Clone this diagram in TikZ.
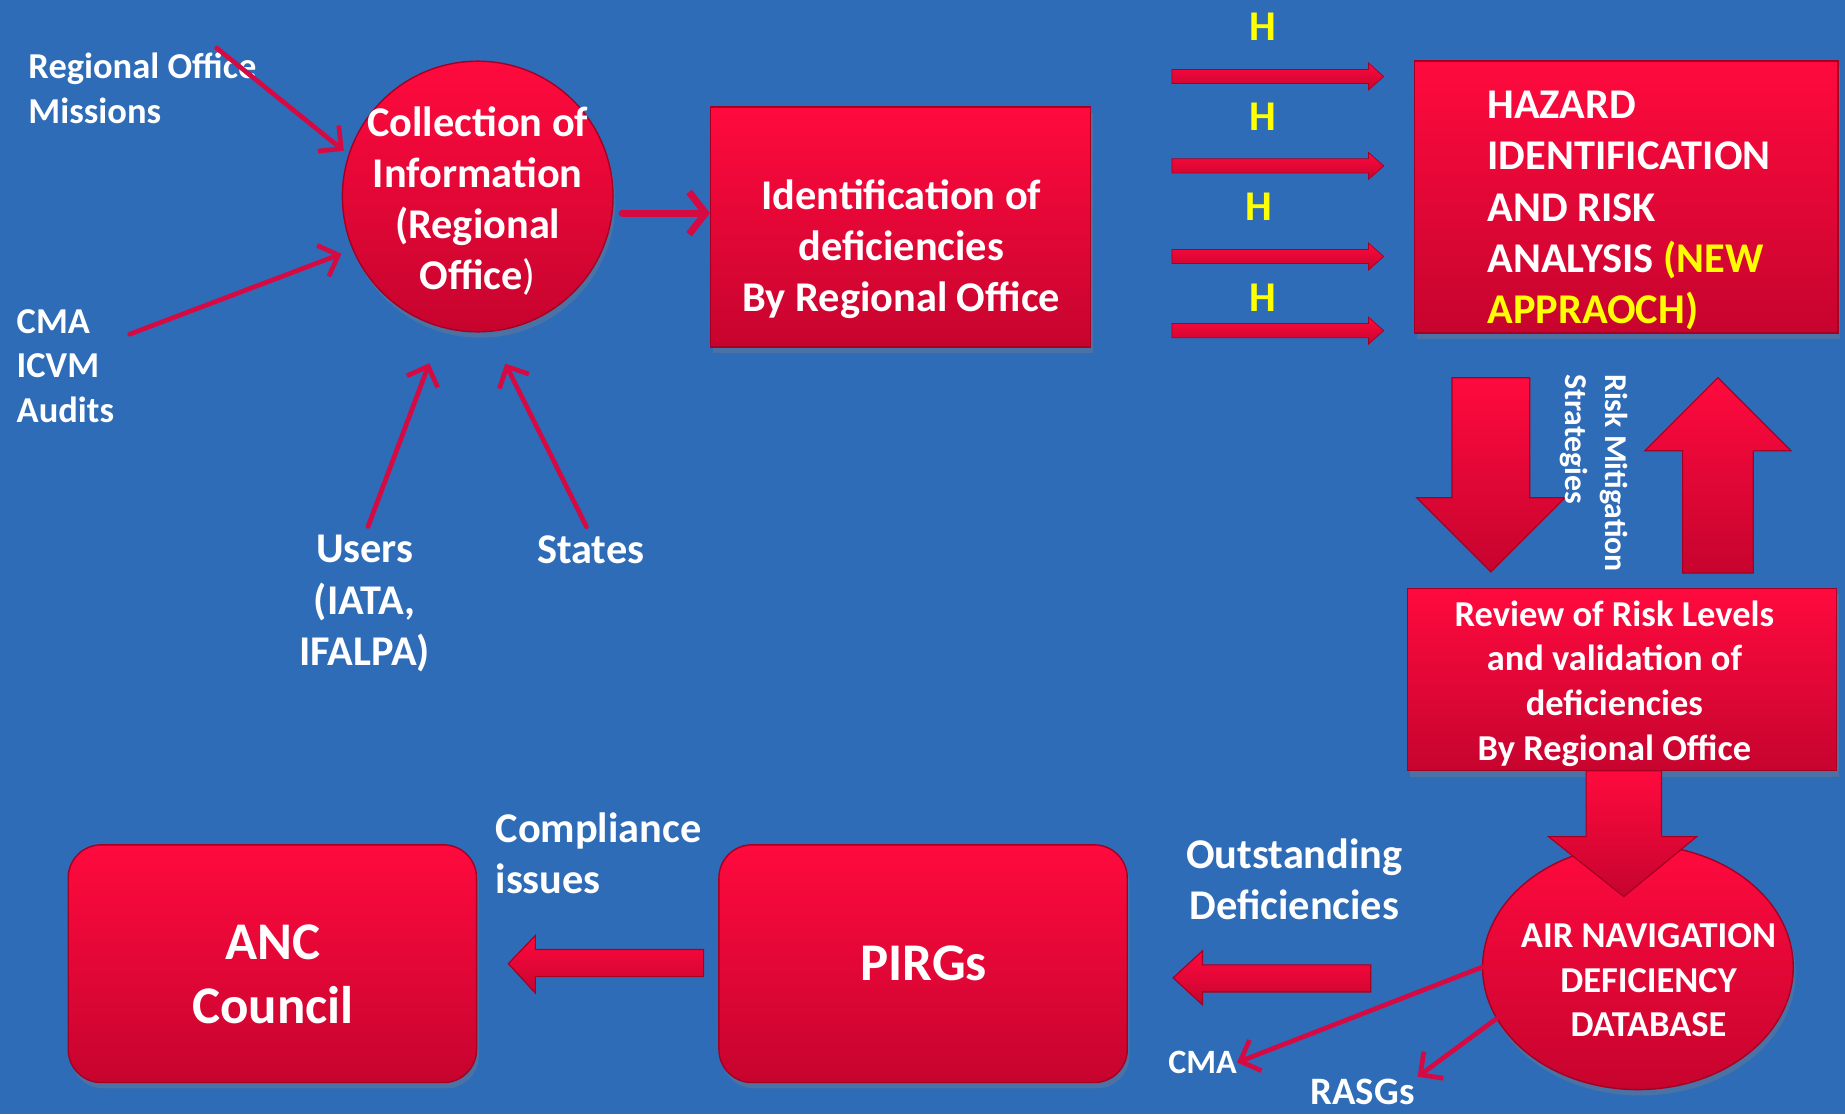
\documentclass[tikz,border=0pt]{standalone}
\usepackage{fontspec}
\setmainfont{Carlito}
\usetikzlibrary{arrows.meta,shapes.geometric,shadows,calc}

\definecolor{slideblue}{RGB}{46,108,184}
\definecolor{redtop}{RGB}{255,10,62}
\definecolor{redbot}{RGB}{198,4,46}
\definecolor{rededge}{RGB}{165,0,35}
\definecolor{linkred}{RGB}{214,10,66}
\definecolor{hazyellow}{RGB}{255,255,0}

\newcommand\txtbig{\fontsize{36pt}{43.5pt}\selectfont\bfseries}
\newcommand\txtmid{\fontsize{31pt}{38pt}\selectfont\bfseries}
\newcommand\txthuge{\fontsize{45pt}{54pt}\selectfont\bfseries}
\newcommand\txtrot{\fontsize{27pt}{34pt}\selectfont\bfseries}

\begin{document}
\begin{tikzpicture}[x=1pt,y=-1pt,
  redbox/.style={draw=rededge,line width=1.2pt,top color=redtop,bottom color=redbot,inner sep=0pt,
    drop shadow={shadow xshift=2pt,shadow yshift=-5pt,opacity=0.35}},
  disc/.style={redbox,circle,minimum size=230pt},
  lbl/.style={text=white,inner sep=0pt,font=\txtbig},
  hlabel/.style={lbl,text=hazyellow},
  link/.style={draw=linkred,line width=4pt,line cap=round,line join=round,
    -{Straight Barb[length=14pt,width=28pt]}},
  blockarrow/.style={draw=rededge,line width=1pt,top color=redtop,bottom color=redbot}]

  \useasboundingbox (0,0) rectangle (1568,947);
  \fill[slideblue] (0,0) rectangle (1568,947);

  % sources of information
  \node[lbl,font=\txtmid,align=left,anchor=west] (missions) at (24,75) {Regional Office\\Missions};
  \node[lbl,font=\txtmid,align=left,anchor=west] (cmaleft) at (14,311) {CMA\\ICVM\\Audits};
  \node[lbl,align=center] (users) at (310,513) {Users\\(IATA,\\IFALPA)};
  \node[lbl] (states) at (502,467) {States};

  \node[disc] (coll) at (406,167) {};
  \node[lbl,align=center] (colltext) at (406,171) {Collection of\\Information\\(Regional\\Office{\mdseries)}};

  \node[redbox,minimum width=323pt,minimum height=204pt] (ident) at (765.5,193) {};
  \node[lbl,align=center] (identtext) at (766,212) {Identification of\\deficiencies\\By Regional Office};

  \node[redbox,minimum width=360pt,minimum height=231pt] (hazard) at (1382,167.5) {};
  \node[lbl,align=left,anchor=west] (hazardtext) at (1264,179)
    {HAZARD\\IDENTIFICATION\\AND RISK\\ANALYSIS \textcolor{hazyellow}{(NEW}\\\textcolor{hazyellow}{APPRAOCH)}};

  % hazards coming in
  \foreach \y in {65,141,218,281}
    \path[blockarrow,line width=0.6pt] (996,\y-6) -- (1163,\y-6) -- (1163,\y-11.5) -- (1176,\y)
      -- (1163,\y+11.5) -- (1163,\y+6) -- (996,\y+6) -- cycle;
  \foreach \x/\y in {1073/23,1073/99,1070/176,1073/253}
    \node[hlabel] (h\y) at (\x,\y) {H};

  % risk loop
  \path[blockarrow] (1234,321) -- (1300,321) -- (1300,423) -- (1330,423) -- (1267,486)
    -- (1204,423) -- (1234,423) -- cycle;
  \path[blockarrow] (1430,487) -- (1490,487) -- (1490,383) -- (1522,383) -- (1460,321)
    -- (1398,383) -- (1430,383) -- cycle;
  \node[lbl,font=\txtrot,align=left,rotate=-90] (mitig) at (1355,402) {Risk Mitigation\\Strategies};

  \node[redbox,minimum width=365pt,minimum height=155pt] (review) at (1378.5,577.5) {};
  \node[lbl,font=\txtmid,align=center] (reviewtext) at (1372,581)
    {Review of Risk Levels\\and validation of\\deficiencies\\By Regional Office};

  % database and outputs
  \node[redbox,ellipse,minimum width=264pt,minimum height=208pt] (db) at (1392,822) {};
  \path[blockarrow] (1348,655) -- (1412,655) -- (1412,711) -- (1442,711) -- (1380,762)
    -- (1316,711) -- (1348,711) -- cycle;
  \node[lbl,font=\txtmid,align=center] (dbtext) at (1401,833) {AIR NAVIGATION\\DEFICIENCY\\DATABASE};

  \node[lbl,align=center] (outst) at (1100,747) {Outstanding\\Deficiencies};
  \path[blockarrow] (1165,820) -- (1022,820) -- (1022,808) -- (997,831) -- (1022,854)
    -- (1022,843) -- (1165,843) -- cycle;

  \node[redbox,rounded corners=28pt,minimum width=347pt,minimum height=202pt] (pirgs) at (784.5,819) {};
  \node[lbl,font=\txthuge] (pirgstext) at (785,819) {PIRGs};

  \node[lbl,align=left,anchor=west] (compl) at (421,725) {Compliance\\issues};
  \path[blockarrow] (598,807) -- (455,807) -- (455,795) -- (432,819) -- (455,844)
    -- (455,830) -- (598,830) -- cycle;

  \node[redbox,rounded corners=28pt,minimum width=347pt,minimum height=202pt] (anc) at (231.5,819) {};
  \node[lbl,font=\txthuge,align=center] (anctext) at (232,828) {ANC\\Council};

  \node[lbl,font=\fontsize{29pt}{35pt}\selectfont\bfseries] (cmaright) at (1022,903) {CMA};
  \node[lbl,font=\fontsize{33pt}{40pt}\selectfont\bfseries] (rasgs) at (1158,928) {RASGs};

  % thin connectors
  \draw[link,shorten >=5pt] ($(missions.north east)+(-34,-4)$) -- (coll.162);
  \draw[link,shorten >=10pt] ($(cmaleft.east)+(13,-27)$) -- (coll.203);
  \draw[link,shorten <=8pt,shorten >=32pt] (users.north) -- (coll.255);
  \draw[link,shorten <=8pt,shorten >=30pt] (states.north) -- (coll.275);
  \draw[link,line width=6pt,shorten <=8pt,-{Straight Barb[length=14pt,width=36pt]}] (coll.-7) -- (coll.-7 -| ident.west);
  \draw[link] (db.west) -- (cmaright.east);
  \draw[link,shorten >=3pt] (db.200) -- (rasgs.north east);
\end{tikzpicture}
\end{document}
